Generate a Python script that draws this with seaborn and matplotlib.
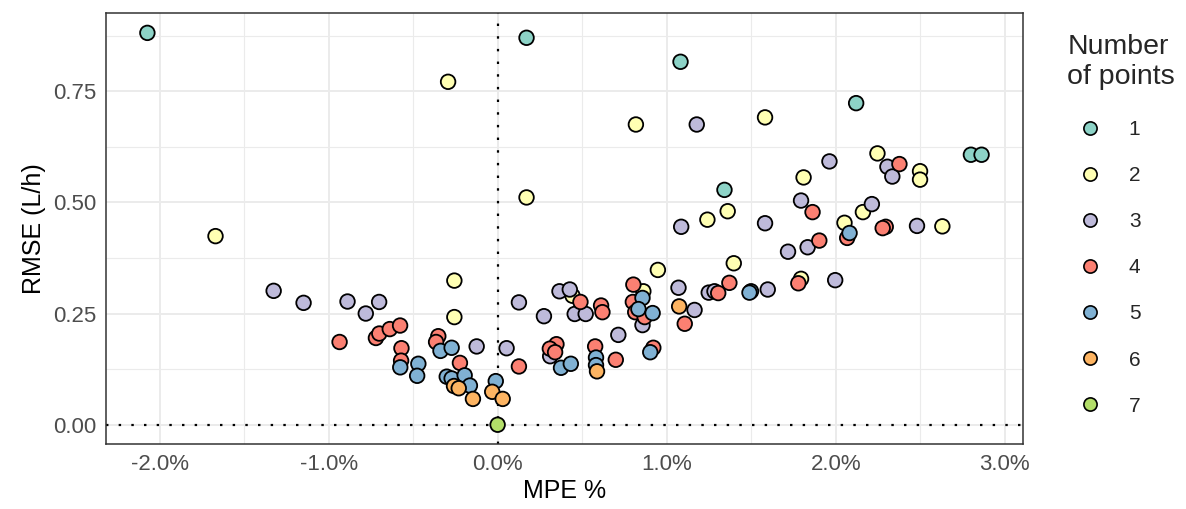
import matplotlib
matplotlib.use("Agg")
import matplotlib.pyplot as plt
import seaborn as sns
import pandas as pd
from matplotlib.ticker import FuncFormatter, MultipleLocator

# ---- data (MPE %, RMSE L/h) by number of points ----
mpe_1 = [-2.072, 0.171, 1.082, 2.121, 1.342, 2.800, 2.863]
rmse_1 = [0.881, 0.870, 0.816, 0.723, 0.528, 0.607, 0.607]

mpe_2 = [-0.293, -1.669, 0.818, 1.582, 0.171, 1.361, 1.241, 2.247, 2.499, 2.499,
         1.810, 2.161, 2.052, 2.631, 1.397, 0.948, 0.862, 0.443, 1.795, -0.256, -0.256]
rmse_2 = [0.771, 0.424, 0.675, 0.691, 0.511, 0.480, 0.461, 0.610, 0.570, 0.551,
          0.556, 0.478, 0.454, 0.446, 0.363, 0.348, 0.300, 0.290, 0.328, 0.324, 0.242]

mpe_3 = [1.178, 1.086, 1.582, 1.963, 2.306, 2.335, 1.795, 2.214, 2.481, 1.834,
         1.718, 1.997, 1.598, 0.857, 1.070, 1.165, 1.249, 1.283, 0.366, 0.427,
         0.456, 0.521, 0.274, 0.126, 0.714, 0.311, 0.053, -0.124, -1.325, -1.148,
         -0.888, -0.701, -0.780]
rmse_3 = [0.675, 0.445, 0.453, 0.592, 0.580, 0.558, 0.504, 0.496, 0.447, 0.399,
          0.389, 0.325, 0.304, 0.224, 0.308, 0.258, 0.297, 0.300, 0.300, 0.304,
          0.249, 0.249, 0.244, 0.275, 0.202, 0.154, 0.172, 0.176, 0.301, 0.274,
          0.277, 0.276, 0.250]

mpe_4 = [2.377, 1.863, 2.068, 2.296, 2.278, 1.903, 1.779, 0.803, 0.800, 0.814,
         0.870, 1.107, 1.305, 1.371, 0.490, 0.612, 0.620, 0.348, 0.309, 0.340,
         0.577, 0.699, 0.921, 0.126, -0.935, -0.720, -0.700, -0.638, -0.577, -0.569,
         -0.571, -0.351, -0.364, -0.223]
rmse_4 = [0.586, 0.478, 0.420, 0.445, 0.442, 0.414, 0.318, 0.315, 0.276, 0.253,
          0.242, 0.227, 0.296, 0.319, 0.276, 0.268, 0.253, 0.181, 0.171, 0.163,
          0.176, 0.146, 0.173, 0.131, 0.186, 0.195, 0.205, 0.215, 0.223, 0.172,
          0.144, 0.199, 0.186, 0.139]

mpe_5 = [2.082, 1.499, 1.490, 0.857, 0.833, 0.917, 0.375, 0.433, 0.582, 0.582,
         0.903, -0.011, -0.576, -0.469, -0.476, -0.338, -0.272, -0.301, -0.272, -0.195,
         -0.164]
rmse_5 = [0.431, 0.300, 0.297, 0.285, 0.260, 0.251, 0.128, 0.137, 0.151, 0.134,
          0.163, 0.098, 0.129, 0.137, 0.110, 0.166, 0.173, 0.108, 0.104, 0.111,
          0.088]

mpe_6 = [1.074, 0.588, -0.032, 0.030, -0.258, -0.230, -0.146]
rmse_6 = [0.266, 0.120, 0.074, 0.058, 0.087, 0.082, 0.058]

mpe_7 = [0.0]
rmse_7 = [0.0]

groups = ["1", "2", "3", "4", "5", "6", "7"]
x_ticks = [-2.0, -1.0, 0.0, 1.0, 2.0, 3.0]
y_ticks = [0.00, 0.25, 0.50, 0.75]

mpes = [mpe_1, mpe_2, mpe_3, mpe_4, mpe_5, mpe_6, mpe_7]
rmses = [rmse_1, rmse_2, rmse_3, rmse_4, rmse_5, rmse_6, rmse_7]
frames = [pd.DataFrame({"MPE": m, "RMSE": r, "n": g}) for m, r, g in zip(mpes, rmses, groups)]
df = pd.concat(frames, ignore_index=True)

palette = ["#8DD3C7", "#FFFFB3", "#BEBADA", "#FB8072", "#80B1D3", "#FDB462", "#B3DE69"]

sns.set_style("white")
plt.rcParams["font.family"] = ["Liberation Sans", "DejaVu Sans"]

fig = plt.figure(figsize=(11.86, 5.09), dpi=100)
ax = fig.add_axes([0.0891, 0.1271, 0.8628 - 0.0891, 0.9739 - 0.1271])

sns.scatterplot(data=df, x="MPE", y="RMSE", hue="n", hue_order=groups,
                palette=palette, s=110, edgecolor="black", linewidth=1.3,
                ax=ax, zorder=3, legend=True)

ax.margins(0.05)
ax.axvline(0, color="black", linestyle=(0, (1.1, 4.6)), linewidth=1.6, zorder=2)
ax.axhline(0, color="black", linestyle=(0, (1.1, 4.6)), linewidth=1.6, zorder=2)

ax.set_xticks(x_ticks)
ax.set_yticks(y_ticks)
ax.xaxis.set_minor_locator(MultipleLocator(0.5))
ax.yaxis.set_minor_locator(MultipleLocator(0.125))
ax.xaxis.set_major_formatter(FuncFormatter(lambda v, p: f"{v:.1f}%"))
ax.yaxis.set_major_formatter(FuncFormatter(lambda v, p: f"{v:.2f}"))
ax.grid(which="major", color="#EBEBEB", linewidth=1.4, zorder=0)
ax.grid(which="minor", color="#EBEBEB", linewidth=0.8, zorder=0)
ax.set_axisbelow(True)

for sp in ax.spines.values():
    sp.set_color("#333333")
    sp.set_linewidth(1.1)

ax.tick_params(axis="both", which="major", direction="out", length=4, width=1.1,
               color="#333333", labelcolor="#4D4D4D", labelsize=16, pad=3)
ax.tick_params(axis="both", which="minor", length=0)
ax.set_xlabel("MPE %", fontsize=18, color="black", labelpad=3)
ax.set_ylabel("RMSE (L/h)", fontsize=18, color="black", labelpad=5)

handles, labels = ax.get_legend_handles_labels()
ax.get_legend().remove()
for h in handles:
    try:
        h.set_markersize(9.5)
        h.set_markeredgewidth(1.2)
    except Exception:
        pass
leg = fig.legend(handles, labels, title="Number\nof points", loc="upper left",
                 bbox_to_anchor=(0.9, 0.934), frameon=False, fontsize=15,
                 title_fontsize=20.5, labelspacing=1.3, handletextpad=0.75,
                 borderpad=0, borderaxespad=0, handlelength=2.2)
leg._legend_box.align = "left"
leg._legend_box.sep = 22

fig.savefig("out.png", dpi=100)
